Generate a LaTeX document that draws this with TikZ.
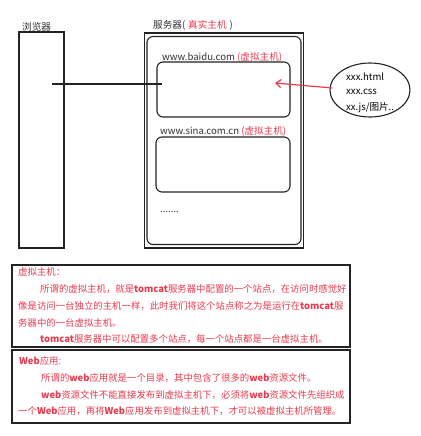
\documentclass[tikz,border=0pt]{standalone}
\usepackage{fontspec}
\setmainfont{Noto Sans CJK SC}
\usetikzlibrary{arrows.meta,shapes.geometric}
\definecolor{redtxt}{RGB}{232,60,80}
\definecolor{darkline}{RGB}{35,35,35}
\definecolor{graytxt}{RGB}{50,50,50}
\begin{document}
\begin{tikzpicture}[x=1pt,y=-1pt,
  box/.style={draw=darkline,line width=1.2pt,inner sep=0pt},
  rbox/.style={draw=darkline,line width=1.1pt,rounded corners=6pt,inner sep=0pt},
  lbl/.style={anchor=west,inner sep=0pt,text=graytxt,font=\fontsize{9.6}{11}\selectfont},
  rtxt/.style={anchor=west,inner sep=0pt,text=redtxt,font=\fontsize{9.4}{11}\selectfont}]
\useasboundingbox (0,0) rectangle (420,436);
\fill[white] (0,0) rectangle (420,436);
% browser
\node[box,minimum width=45pt,minimum height=216pt] (browser) at (41.5,140) {};
\node[lbl] (browserlbl) at (22,27) {浏览器};
% server
\node[box,minimum width=159pt,minimum height=215pt] (server) at (224,140.5) {};
\node[rbox,minimum width=154pt,minimum height=208pt] (serverin) at (224,140.5) {};
\node[lbl] (serverlbl) at (153,25) {服务器(\hspace{3pt}{\color{redtxt}真实主机}\hspace{3pt})};
% virtual host 1
\node[lbl] (baidulbl) at (162,57) {www.baidu.com {\color{redtxt}(虚拟主机)}};
\node[rbox,minimum width=133pt,minimum height=55pt] (vh1) at (223.5,89.5) {};
% virtual host 2
\node[lbl] (sinalbl) at (160,131) {www.sina.com.cn {\color{redtxt}(虚拟主机)}};
\node[rbox,minimum width=134pt,minimum height=55pt] (vh2) at (223,164.5) {};
\node[lbl] (dots) at (160,212) {.......};
% connection line
\coordinate (lineA) at (52,84);
\coordinate (lineB) at (162,84);
\draw[darkline,line width=1.2pt] (lineA) -- (lineB);
% files ellipse
\node[draw=darkline,line width=1.1pt,ellipse,minimum width=80pt,minimum height=54pt,inner sep=0pt] (files) at (370,90) {};
\node[lbl,text=black] (f1) at (346,77) {xxx.html};
\node[lbl,text=black] (f2) at (346,92) {xxx.css};
\node[lbl,text=black] (f3) at (346,108) {xx.js/图片..};
\coordinate (arrEnd) at (275,83);
\draw[redtxt,line width=1.2pt,-{Straight Barb[length=5pt,width=8pt]}] (files.west) ++(3,-2) coordinate (arrStart) -- (arrEnd);
% text box 1
\node[box,minimum width=338pt,minimum height=82pt] (tb1) at (181,306) {};
\node[rtxt] (t11) at (18,272) {虚拟主机：};
\node[rtxt] (t12) at (40,289) {所谓的虚拟主机，就是\textbf{tomcat}服务器中配置的一个站点，在访问时感觉好};
\node[rtxt] (t13) at (18,306) {像是访问一台独立的主机一样，此时我们将这个站点称之为是运行在\textbf{tomcat}服};
\node[rtxt] (t14) at (18,323) {务器中的一台虚拟主机。};
\node[rtxt] (t15) at (40,339) {\textbf{tomcat}服务器中可以配置多个站点，每一个站点都是一台虚拟主机。};
% text box 2
\node[box,minimum width=338pt,minimum height=73pt] (tb2) at (181,386.5) {};
\node[rtxt] (t21) at (19,361) {\textbf{Web}应用:};
\node[rtxt] (t22) at (41,378) {所谓的\textbf{web}应用就是一个目录，其中包含了很多的\textbf{web}资源文件。};
\node[rtxt] (t23) at (41,395) {\textbf{web}资源文件不能直接发布到虚拟主机下，必须将\textbf{web}资源文件先组织成};
\node[rtxt] (t24) at (18,411) {一个\textbf{Web}应用，再将\textbf{Web}应用发布到虚拟主机下，才可以被虚拟主机所管理。};
\end{tikzpicture}
\end{document}
